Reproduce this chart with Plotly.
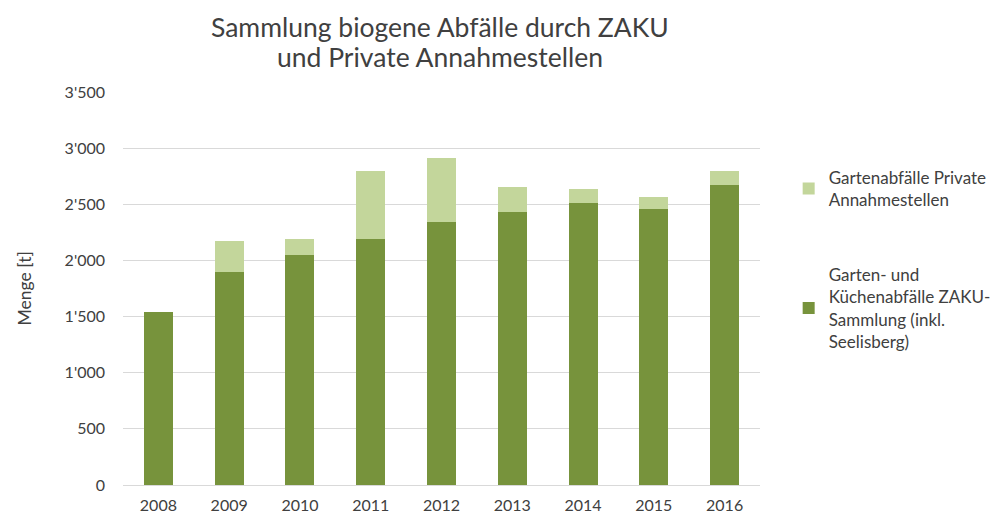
import plotly.graph_objects as go

years = ["2008", "2009", "2010", "2011", "2012", "2013", "2014", "2015", "2016"]
zaku = [1540, 1897, 2048, 2190, 2341, 2433, 2510, 2457, 2673]
private = [0, 273, 148, 610, 577, 225, 130, 112, 121]
y_ticks = [0, 500, 1000, 1500, 2000, 2500, 3000, 3500]

name_zaku = "Garten- und<br>Küchenabfälle ZAKU-<br>Sammlung (inkl.<br>Seelisberg)"
name_private = "Gartenabfälle Private<br>Annahmestellen"
title_line1 = "Sammlung biogene Abfälle durch ZAKU"
title_line2 = "und Private Annahmestellen"

font_family = "Lato, Open Sans, sans-serif"
txt_color = "#404040"

fig = go.Figure()
fig.add_trace(go.Bar(x=years, y=zaku, name=name_zaku, marker_color="#77933C",
                     marker_line_width=0, legendgroup="a", legendrank=2))
fig.add_trace(go.Bar(x=years, y=private, name=name_private, marker_color="#C3D69B",
                     marker_line_width=0, legendgroup="b", legendrank=1))

fig.update_layout(
    width=1000, height=519,
    barmode="stack", bargap=0.59,
    separators=".'",
    plot_bgcolor="white", paper_bgcolor="white",
    margin=dict(l=115, r=243, t=84, b=42),
    font=dict(family=font_family, size=16, color=txt_color),
    xaxis=dict(showgrid=False, showline=True, linecolor="#d9d9d9", linewidth=1,
               ticks="", ticklabelstandoff=6,
               tickfont=dict(size=16, color=txt_color)),
    yaxis=dict(range=[0, 3502], tickvals=y_ticks, tickformat=",d",
               showgrid=True, gridcolor="#d9d9d9", gridwidth=1, zeroline=False,
               ticks="", ticklabelstandoff=17,
               tickfont=dict(size=16, color=txt_color)),
    legend=dict(x=1.045, xanchor="left", y=0.827, yanchor="top",
                traceorder="grouped", tracegroupgap=50,
                font=dict(size=17, color=txt_color), itemwidth=30),
    annotations=[
        dict(text=title_line1, xref="paper", yref="paper", x=0.4977, y=1.1665,
             xanchor="center", yanchor="middle", showarrow=False,
             font=dict(size=26.5, color=txt_color)),
        dict(text=title_line2, xref="paper", yref="paper", x=0.4977, y=1.089,
             xanchor="center", yanchor="middle", showarrow=False,
             font=dict(size=26.5, color=txt_color)),
        dict(text="Menge [t]", textangle=-90, xref="paper", yref="paper",
             x=-0.154, y=0.5, xanchor="center", yanchor="middle",
             showarrow=False, font=dict(size=17.5, color=txt_color)),
    ],
)

fig.write_html("out.html", config={"displayModeBar": False})
